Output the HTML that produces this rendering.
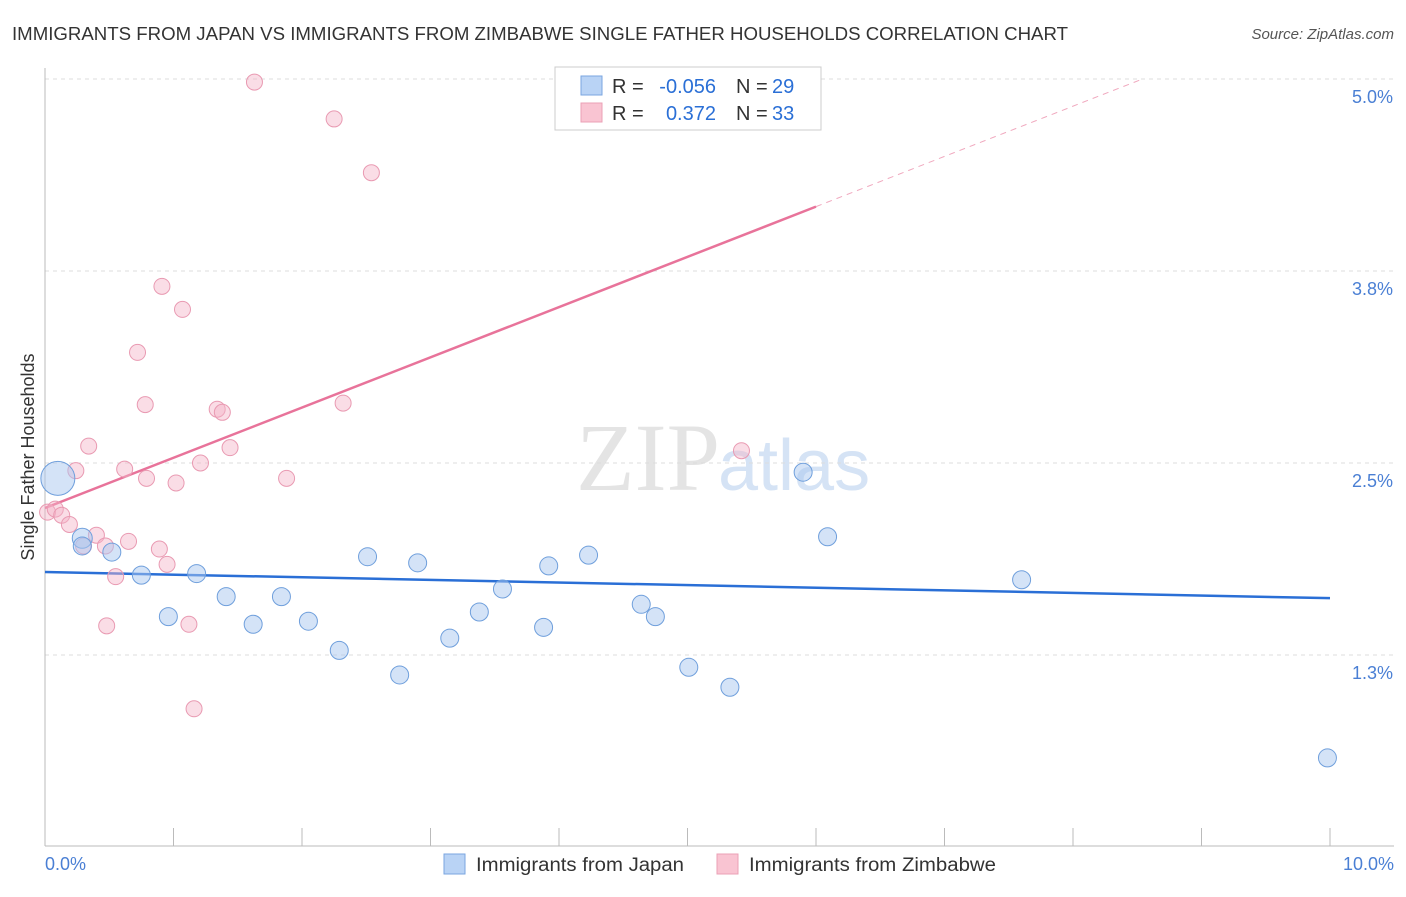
<!DOCTYPE html>
<html><head><meta charset="utf-8"><style>
body{margin:0;background:#fff;font-family:"Liberation Sans",sans-serif}
</style></head><body>
<svg id="c" width="1406" height="892" xmlns="http://www.w3.org/2000/svg">
<text x="12" y="40" font-size="18" fill="#333" textLength="1056" lengthAdjust="spacingAndGlyphs">IMMIGRANTS FROM JAPAN VS IMMIGRANTS FROM ZIMBABWE SINGLE FATHER HOUSEHOLDS CORRELATION CHART</text>
<text x="1394" y="39" font-size="15" fill="#555" font-style="italic" text-anchor="end">Source: ZipAtlas.com</text>
<text x="720" y="490" font-size="96" fill="#e4e4e4" text-anchor="end" font-family="Liberation Serif,serif">ZIP</text>
<text x="718" y="490" font-size="72" fill="#d5e3f5">atlas</text>
<text transform="translate(34,457) rotate(-90)" font-size="18" fill="#333" text-anchor="middle">Single Father Households</text>
<g id="grid"></g><g id="ticks"></g><g id="lines"></g><g id="pts"></g>
<g>
<rect x="555" y="67" width="266" height="63" fill="#fff" stroke="#ccc"/>
<rect x="581" y="76" width="21" height="19" fill="#b9d3f5" stroke="#7aa6e0"/>
<rect x="581" y="103" width="21" height="19" fill="#f9c4d2" stroke="#eba0b6"/>
<text x="612" y="93" font-size="20" fill="#333">R =</text>
<text x="716" y="93" font-size="20" fill="#2a6fd6" text-anchor="end">-0.056</text>
<text x="736" y="93" font-size="20" fill="#333">N =</text>
<text x="772" y="93" font-size="20" fill="#2a6fd6">29</text>
<text x="612" y="120" font-size="20" fill="#333">R =</text>
<text x="716" y="120" font-size="20" fill="#2a6fd6" text-anchor="end">0.372</text>
<text x="736" y="120" font-size="20" fill="#333">N =</text>
<text x="772" y="120" font-size="20" fill="#2a6fd6">33</text>
</g>
<g>
<rect x="444" y="854" width="21" height="20" fill="#b9d3f5" stroke="#7aa6e0"/>
<text x="476" y="871" font-size="19" fill="#333" textLength="208" lengthAdjust="spacingAndGlyphs">Immigrants from Japan</text>
<rect x="717" y="854" width="21" height="20" fill="#f9c4d2" stroke="#eba0b6"/>
<text x="749" y="871" font-size="19" fill="#333" textLength="247" lengthAdjust="spacingAndGlyphs">Immigrants from Zimbabwe</text>
</g>
<text x="45" y="870" font-size="18" fill="#4a7fd4">0.0%</text>
<text x="1394" y="870" font-size="18" fill="#4a7fd4" text-anchor="end">10.0%</text>
</svg>
<script>
const yTicks=[5.0,3.75,2.5,1.25];
const yTickLabels=["5.0%","3.8%","2.5%","1.3%"];
const xTicks=[0,1,2,3,4,5,6,7,8,9,10];
const japanX=[0.1,0.29,0.52,0.75,0.96,1.18,1.41,1.62,1.84,2.05,2.29,2.51,2.76,2.9,3.15,3.38,3.56,3.88,3.92,4.23,4.64,4.75,5.01,5.33,5.9,6.09,7.6,9.98,0.29];
const japanY=[2.40,2.01,1.92,1.77,1.5,1.78,1.63,1.45,1.63,1.47,1.28,1.89,1.12,1.85,1.36,1.53,1.68,1.43,1.83,1.9,1.58,1.5,1.17,1.04,2.44,2.02,1.74,0.58,1.96];
const japanR=[17,10,9,9,9,9,9,9,9,9,9,9,9,9,9,9,9,9,9,9,9,9,9,9,9,9,9,9,9];
const zimX=[1.63,2.25,2.54,0.91,1.07,0.72,0.78,1.34,1.38,2.32,0.34,1.44,0.24,0.62,1.21,0.79,1.02,1.88,5.42,0.02,0.08,0.13,0.19,0.4,0.3,0.47,0.65,0.89,0.95,0.55,0.48,1.12,1.16];
const zimY=[4.98,4.74,4.39,3.65,3.5,3.22,2.88,2.85,2.83,2.89,2.61,2.6,2.45,2.46,2.5,2.4,2.37,2.4,2.58,2.18,2.2,2.16,2.1,2.03,1.96,1.96,1.99,1.94,1.84,1.76,1.44,1.45,0.9];
const japanFit=[1.79,1.62];
const zimFit=[2.207,0.327];
const X=v=>45+v*128.5, Y=v=>847-v*153.6;
const NS="http://www.w3.org/2000/svg";
function mk(p,t,a){const e=document.createElementNS(NS,t);for(const k in a)e.setAttribute(k,a[k]);document.getElementById(p).appendChild(e);return e;}
yTicks.forEach((t,i)=>{
 const l=mk('grid','line',{x1:45,x2:1394,y1:Y(t),y2:Y(t),stroke:'#ddd','stroke-dasharray':'4,4'});
 
 
 const tx=mk('grid','text',{x:1393,y:Y(t)+24,'font-size':18,fill:'#4a7fd4','text-anchor':'end'});
 tx.textContent=yTickLabels[i];
 
 
});
const ya=mk('ticks','line',{x1:45,x2:45,y1:68,y2:846,stroke:'#bbb'});


const xa=mk('ticks','line',{x1:45,x2:1394,y1:846,y2:846,stroke:'#bbb'});


xTicks.forEach(t=>{
 const l=mk('ticks','line',{x1:X(t),x2:X(t),y1:828,y2:846,stroke:'#bbb'});
 
 
});
const bl=mk('lines','line',{x1:X(0),y1:Y(japanFit[0]),x2:X(10),y2:Y(japanFit[1]),stroke:'#2a6fd6','stroke-width':2.5});


const pl=mk('lines','line',{x1:X(0),y1:Y(zimFit[0]),x2:X(6),y2:Y(zimFit[0]+6*zimFit[1]),stroke:'#e8739a','stroke-width':2.5});


const pd=mk('lines','line',{x1:X(6),y1:Y(zimFit[0]+6*zimFit[1]),x2:X(8.55),y2:Y(zimFit[0]+8.55*zimFit[1]),stroke:'#f0a8be','stroke-width':1,'stroke-dasharray':'6,5'});


zimX.forEach((x,i)=>{
 const c=mk('pts','circle',{cx:X(x),cy:Y(zimY[i]),r:8,fill:'rgba(245,180,200,0.45)',stroke:'#e99ab2','stroke-width':1});
 
 
});
japanX.forEach((x,i)=>{
 const c=mk('pts','circle',{cx:X(x),cy:Y(japanY[i]),r:japanR[i],fill:'rgba(170,200,240,0.5)',stroke:'#6f9fdc','stroke-width':1});
 
 
});
</script>
</body></html>
